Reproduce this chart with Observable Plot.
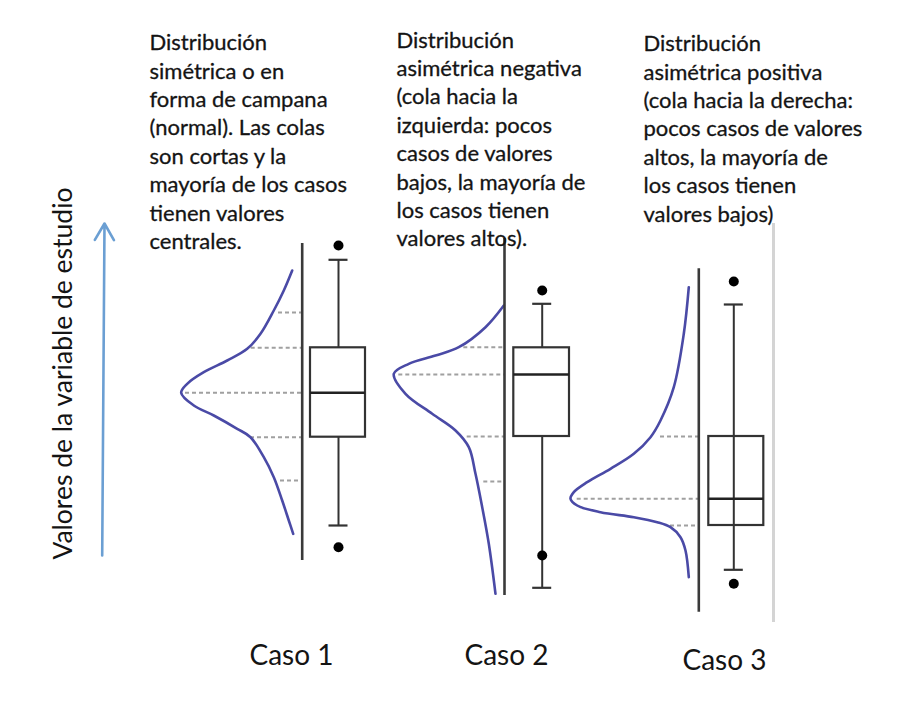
<!DOCTYPE html>
<html><head><meta charset="utf-8">
<script src="https://cdn.jsdelivr.net/npm/d3@7"></script>
<script src="https://cdn.jsdelivr.net/npm/@observablehq/plot@0.6"></script>
<style>body{margin:0;background:#fff} #chart svg{display:block}</style>
</head><body><div id="chart"></div>
<script>
// ---------- DATA (valores de la variable de estudio) ----------
const cases = ["Caso 1", "Caso 2", "Caso 3"];
const whiskerLow  = [95, 32.7, 50.7];
const q1          = [183.3, 184, 95];
const median      = [227.7, 246, 121.7];
const q3          = [272.7, 272.7, 184];
const whiskerHigh = [360.7, 316.7, 316];
const outlierLow  = [73.3, 65, 36.7];
const outlierHigh = [375, 330, 339];
// extent of the vertical reference line of each case
const axisFrom = [60, 25, 8.3];
const axisTo   = [377, 382, 351.7];

// density curves: [valor, densidad]
const density1 = [[350,10],[330,18.4],[310,28.4],[286.7,41.7],[271.7,55],[260,75],[248.3,98.4],[236.7,115],[227.7,121],[215,108.4],[205,88.4],[191.7,65],[183.3,51.7],[163.3,38.4],[143.3,28.4],[120,20],[100,13.4],[86.7,9]];
const density2 = [[315,0.7],[293.3,19],[273.3,45.7],[265,69],[256.7,95.7],[246.7,110.7],[226.7,99],[206.7,72.3],[190,49],[173.3,35.7],[146.7,29],[113.3,22.3],[76.7,15.7],[26.7,9]];
const density3 = [[333.3,10],[286.7,15],[233.3,25],[200,38.3],[183.3,48.3],[166.7,65],[151.7,88.3],[138.3,111.6],[128.3,125],[121.7,128.3],[115,121.6],[108.3,98.3],[103.3,65],[98.3,41.6],[93.3,28.3],[83.3,18.3],[70,13.3],[43.3,10]];

// dashed reference levels: [valor, densidad en ese valor]
const levels1 = [[308,23.7],[272.7,51],[227.7,116.7],[183.3,51.7],[140,21.7]];
const levels2 = [[273.3,40.7],[246,105.7],[184,37.3],[139,20.7]];
const levels3 = [[184,38.3],[121.7,121.6],[95,28.3]];

const descriptions = [
  "Distribución\nsimétrica o en\nforma de campana\n(normal). Las colas\nson cortas y la\nmayoría de los casos\ntienen valores\ncentrales.",
  "Distribución\nasimétrica negativa\n(cola hacia la\nizquierda: pocos\ncasos de valores\nbajos, la mayoría de\nlos casos tienen\nvalores altos).",
  "Distribución\nasimétrica positiva\n(cola hacia la derecha:\npocos casos de valores\naltos, la mayoría de\nlos casos tienen\nvalores bajos)"
];
const axisTitle = "Valores de la variable de estudio";

// ---------- LAYOUT (positions / styles) ----------
const W = 906, H = 702;
const L = {
  axisX:    [301.7, 504, 698.3],
  boxLeft:  [310, 513.3, 708.3],
  boxRight: [365, 569, 763.3],
  whiskerX: [338, 541.7, 733.3],
  whiskerThrough: [false, false, true],
  capHalf: 9.5,
  descX: [149, 396, 643],
  descY: [590.4, 593, 589.4],
  descFont: 22, descLine: 28.4,
  labelX: [291, 506, 724],
  labelY: [-36, -36, -41],
  labelFont: 28,
  titleX: 63, titleY: 247, titleFont: 26.5,
  arrow: {x1: 101.7, y1: 65, x2: 104, y2: 397},
  sideLine: {x: 773, y1: -2, y2: 397},
  font: "Lato, 'Open Sans', sans-serif",
  curveColor: "#4a4aa6", boxColor: "#333", dashColor: "#a0a0a0", textColor: "#141414"
};

const idx = [0, 1, 2];
const densities = [density1, density2, density3].flatMap((arr, c) => arr.map(([v, d]) => ({c, v, d})));
const levels = [levels1, levels2, levels3].flatMap((arr, c) => arr.map(([v, d]) => ({c, v, d})));
const outliers = idx.flatMap(c => [{c, v: outlierLow[c]}, {c, v: outlierHigh[c]}]);
const caps = idx.flatMap(c => [{c, v: whiskerLow[c]}, {c, v: whiskerHigh[c]}]);
const whiskers = idx.flatMap(c => L.whiskerThrough[c]
  ? [{c, a: whiskerLow[c], b: whiskerHigh[c]}]
  : [{c, a: whiskerLow[c], b: q1[c]}, {c, a: q3[c], b: whiskerHigh[c]}]);

const plot = Plot.plot({
  width: W, height: H, margin: 0,
  x: {domain: [0, W], range: [0, W], axis: null},
  y: {domain: [-82, 620], range: [H, 0], axis: null},
  style: {fontFamily: L.font, background: "#fff"},
  marks: [
    Plot.ruleX([L.sideLine], {x: "x", y1: "y1", y2: "y2", stroke: "#d4d4d4", strokeWidth: 3}),
    Plot.ruleY(levels, {y: "v", x1: d => L.axisX[d.c] - d.d, x2: d => L.axisX[d.c], stroke: L.dashColor, strokeWidth: 2, strokeDasharray: "4,3"}),
    Plot.line(densities, {x: d => L.axisX[d.c] - d.d, y: "v", z: "c", curve: "catmull-rom", stroke: L.curveColor, strokeWidth: 2.6}),
    Plot.ruleX(idx, {x: c => L.axisX[c], y1: c => axisFrom[c], y2: c => axisTo[c], stroke: "#3a3a3a", strokeWidth: 2.6}),
    Plot.rect(idx, {x1: c => L.boxLeft[c], x2: c => L.boxRight[c], y1: c => q1[c], y2: c => q3[c], fill: "#fff", stroke: L.boxColor, strokeWidth: 2.2}),
    Plot.ruleX(whiskers, {x: d => L.whiskerX[d.c], y1: "a", y2: "b", stroke: L.boxColor, strokeWidth: 2}),
    Plot.ruleY(caps, {y: "v", x1: d => L.whiskerX[d.c] - L.capHalf, x2: d => L.whiskerX[d.c] + L.capHalf, stroke: L.boxColor, strokeWidth: 2.2}),
    Plot.ruleY(idx, {y: c => median[c], x1: c => L.boxLeft[c], x2: c => L.boxRight[c], stroke: "#222", strokeWidth: 2.6}),
    Plot.dot(outliers, {x: d => L.whiskerX[d.c], y: "v", r: 5, fill: "#000"}),
    Plot.text(idx, {x: c => L.descX[c], y: c => L.descY[c], text: c => descriptions[c], textAnchor: "start", lineAnchor: "top", lineHeight: L.descLine / L.descFont, fontSize: L.descFont, fill: L.textColor, stroke: L.textColor, strokeWidth: 0.3}),
    Plot.text(idx, {x: c => L.labelX[c], y: c => L.labelY[c], text: c => cases[c], fontSize: L.labelFont, fill: L.textColor}),
    Plot.text([axisTitle], {x: L.titleX, y: L.titleY, text: d => d, rotate: -90, fontSize: L.titleFont, fill: L.textColor}),
    Plot.arrow([L.arrow], {x1: "x1", y1: "y1", x2: "x2", y2: "y2", stroke: "#6b9fd3", strokeWidth: 2.6, headLength: 11})
  ]
});
document.getElementById("chart").appendChild(plot);
</script>
</body></html>
